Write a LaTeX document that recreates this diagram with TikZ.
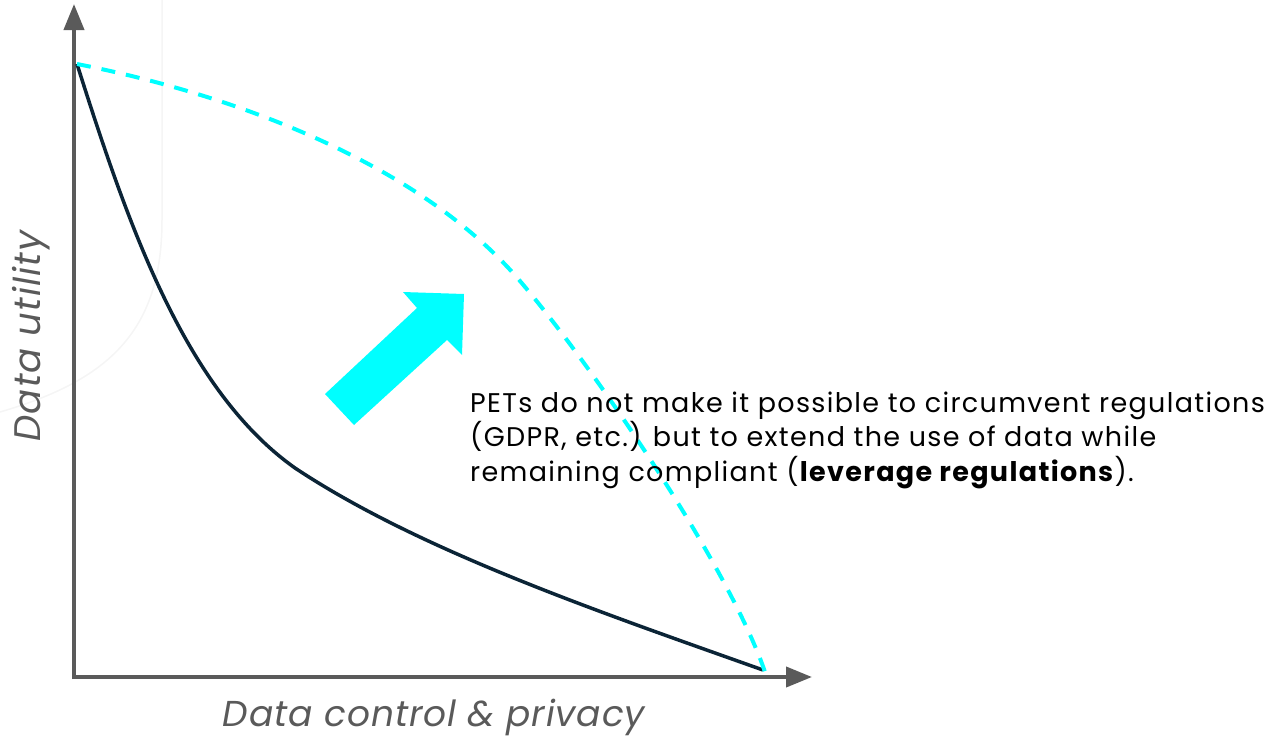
\documentclass[tikz,border=0pt]{standalone}
\usepackage{fontspec}
\setmainfont{Poppins}
\usetikzlibrary{arrows.meta}
\definecolor{axisgray}{HTML}{5A5A5A}
\definecolor{navy}{HTML}{0B2436}
\definecolor{aqua}{HTML}{00FFFF}
\newfontfamily\bodyfont[LetterSpace=5]{Poppins}
\newfontfamily\labelfont[LetterSpace=3]{Poppins}
\newfontfamily\xlabelfont[LetterSpace=2.5]{Poppins}
\tikzset{
  axisline/.style={draw=axisgray, line width=4pt, -{Triangle[length=26pt,width=20pt]}},
  solidcurve/.style={draw=navy, line width=3.5pt},
  dashcurve/.style={draw=aqua, line width=4pt, dash pattern=on 14pt off 11pt},
  axislabel/.style={text=axisgray, inner sep=0pt},
  bodytext/.style={text=black, font=\bodyfont\fontsize{27}{34.5}\selectfont, align=left, inner sep=0pt},
}
\begin{document}
\begin{tikzpicture}[x=1pt,y=-1pt]
\useasboundingbox (0,0) rectangle (1282,739);
\coordinate (ytip) at (74,4);
\coordinate (xtip) at (812,677);
\coordinate (A) at (77,64);
\coordinate (B) at (763,670);
\coordinate (C) at (765,672);
% faint background arc
\draw[black!4, line width=1.5pt] (0,412) .. controls (110,380) and (162,330) .. (162,220) -- (162,0);
\draw[axisline] (74,679) -- (ytip);
\draw[axisline] (72,677) -- (xtip);
\draw[solidcurve] (A) .. controls (128,225) and (185,390) .. (295,468)
  .. controls (420,551) and (600,612) .. (B);
\draw[dashcurve] (A) .. controls (260,100) and (430,175) .. (520,281)
  .. controls (600,375) and (730,570) .. (C);
\fill[aqua] (325,394) -- (417,308) -- (403,292) -- (464,294) -- (462,355) -- (447,340) -- (354,425) -- cycle;
\node[bodytext, anchor=base west] (txt) at (470,481) {PETs do not make it possible to circumvent regulations\\(GDPR, etc.) but to extend the use of data while\\remaining compliant (\textbf{leverage regulations}).};
\node[axislabel, font=\xlabelfont\fontsize{36}{41}\selectfont\itshape, anchor=center] (xl) at (434,717) {Data control \& privacy};
\node[axislabel, font=\labelfont\fontsize{37}{42}\selectfont\itshape, anchor=center, rotate=90] (yl) at (31,336) {Data utility};
\end{tikzpicture}
\end{document}
